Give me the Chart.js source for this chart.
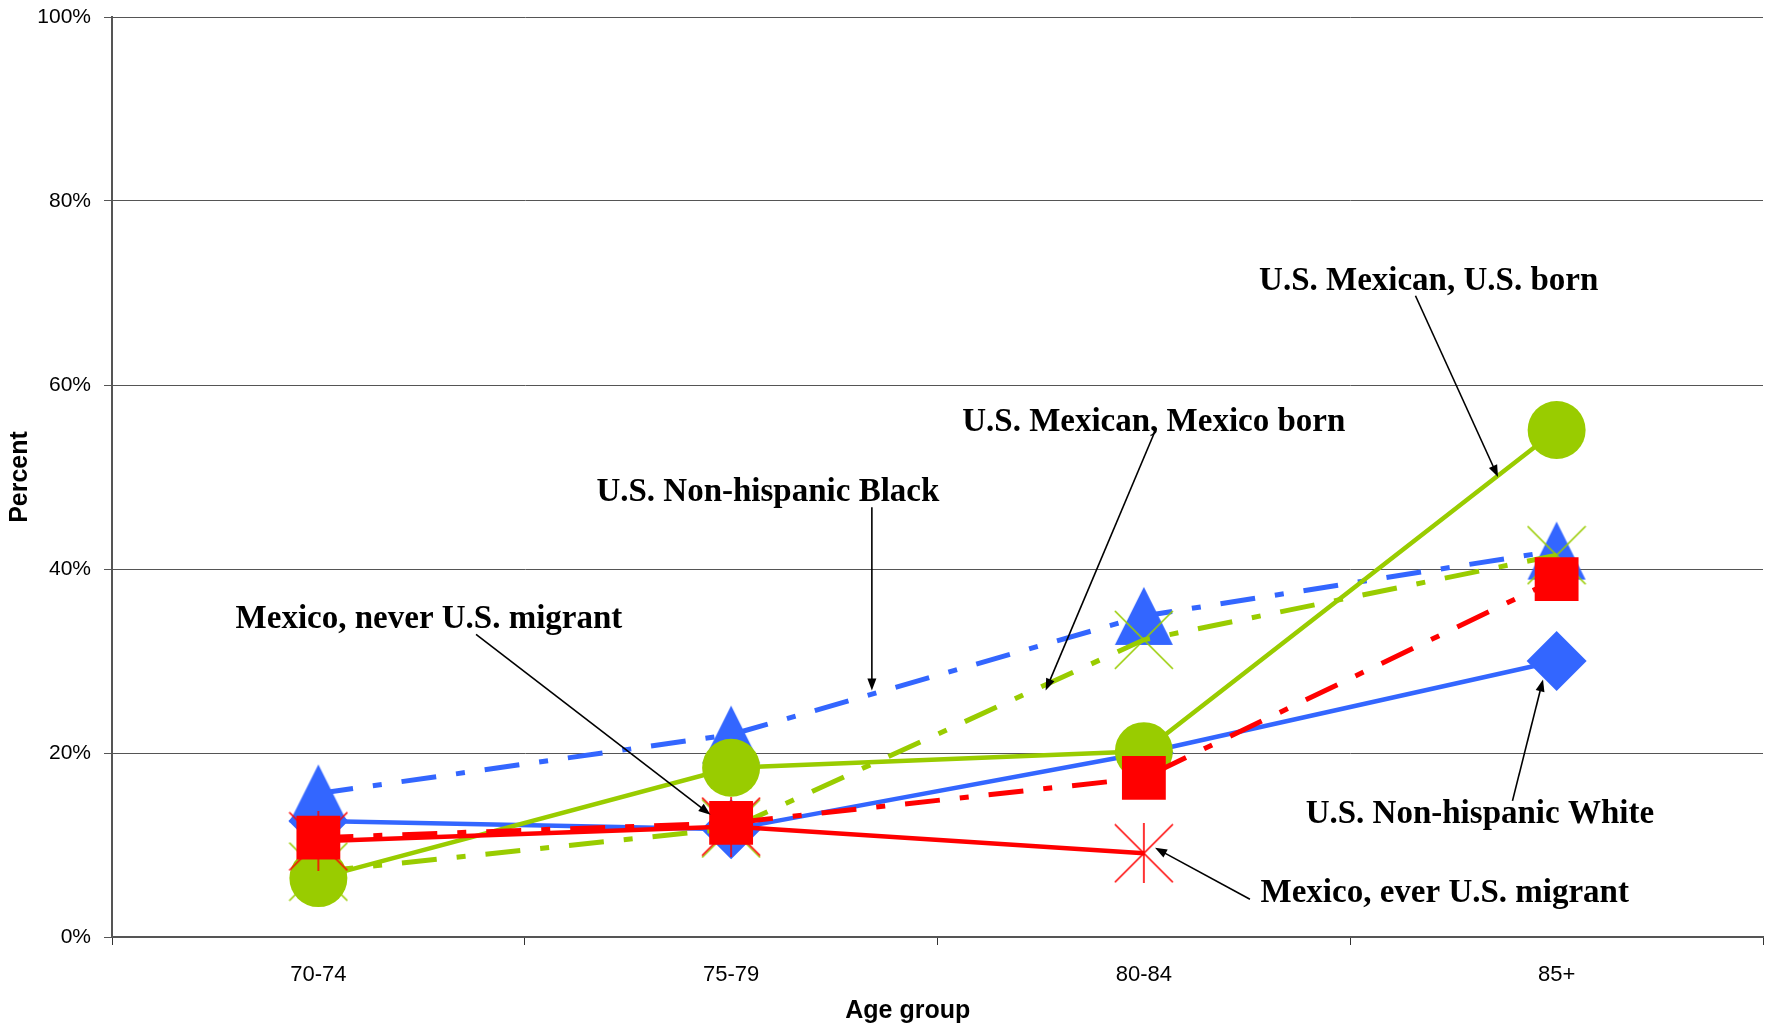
<!DOCTYPE html>
<html>
<head>
<meta charset="utf-8">
<script src="https://cdn.jsdelivr.net/npm/chart.js@4.4.0/dist/chart.umd.min.js"></script>
<style>
  html, body { margin: 0; padding: 0; background: #fff; }
  #wrap { width: 1769px; height: 1026px; }
</style>
</head>
<body>
<div id="wrap"><canvas id="chart" width="1769" height="1026"></canvas></div>
<script>
/* ===== Data (percent) ===== */
const AGE_GROUPS = ["70-74", "75-79", "80-84", "85+"];
const US_BORN = [6.4, 18.4, 20.2, 55.1];
const MEXICO_BORN = [7.1, 11.8, 32.3, 41.5];
const NH_BLACK = [15.6, 22.0, 34.9, 42.0];
const NH_WHITE = [12.6, 11.7, 20.0, 30.0];
const NEVER_MIGRANT = [10.8, 12.4, 17.3, 38.9];
const EVER_MIGRANT = [10.4, 12.0, 9.1, null];
const Y_TICKS = [0, 20, 40, 60, 80, 100];

// callouts: text, text centre [category index, pct], arrow from, arrow to
const NOTES = [
  ["U.S. Mexican, U.S. born", [2.69, 71.3], [2.658, 69.7], [2.858, 50.0]],
  ["U.S. Mexican, Mexico born", [2.024, 55.95], [2.030, 55.3], [1.762, 26.8]],
  ["U.S. Non-hispanic Black", [1.089, 48.35], [1.341, 46.7], [1.341, 26.8]],
  ["Mexico, never U.S. migrant", [0.268, 34.5], [0.382, 32.9], [0.950, 13.3]],
  ["U.S. Non-hispanic White", [2.814, 13.35], [2.893, 14.8], [2.967, 28.0]],
  ["Mexico, ever U.S. migrant", [2.729, 4.7], [2.257, 4.1], [2.027, 9.7]],
];

const GREEN = "#99cc00", BLUE = "#3366ff", RED = "#ff0000";
const DASH_DOT = [35, 20, 9, 20];
const SANS = "'Liberation Sans', Arial, sans-serif";

/* ===== Excel-like markers ===== */
function marker(size, draw) {
  const c = document.createElement("canvas");
  c.width = size; c.height = size;
  draw(c.getContext("2d"), size);
  return c;
}
const triangleMark = marker(60, (g, s) => {
  g.fillStyle = BLUE;
  g.beginPath();
  g.moveTo(s / 2, 1); g.lineTo(s - 1, s - 1); g.lineTo(1, s - 1);
  g.closePath(); g.fill();
});
const xMark = marker(60, (g, s) => {
  g.strokeStyle = GREEN; g.lineWidth = 1.6;
  g.beginPath();
  g.moveTo(1, 1); g.lineTo(s - 1, s - 1);
  g.moveTo(s - 1, 1); g.lineTo(1, s - 1);
  g.stroke();
});
const starMark = marker(60, (g, s) => {
  g.strokeStyle = RED; g.lineWidth = 1.6;
  g.beginPath();
  g.moveTo(1, 1); g.lineTo(s - 1, s - 1);
  g.moveTo(s - 1, 1); g.lineTo(1, s - 1);
  g.moveTo(s / 2, 0); g.lineTo(s / 2, s);
  g.stroke();
});

/* ===== Callout plugin ===== */
function arrow(ctx, x1, y1, x2, y2) {
  const a = Math.atan2(y2 - y1, x2 - x1), len = 12, w = 4.5;
  ctx.beginPath();
  ctx.moveTo(x1, y1);
  ctx.lineTo(x2 - Math.cos(a) * len * 0.8, y2 - Math.sin(a) * len * 0.8);
  ctx.stroke();
  ctx.beginPath();
  ctx.moveTo(x2, y2);
  ctx.lineTo(x2 - Math.cos(a) * len + Math.sin(a) * w, y2 - Math.sin(a) * len - Math.cos(a) * w);
  ctx.lineTo(x2 - Math.cos(a) * len - Math.sin(a) * w, y2 - Math.sin(a) * len + Math.cos(a) * w);
  ctx.closePath();
  ctx.fill();
}

const callouts = {
  id: "callouts",
  afterDraw(chart) {
    const { ctx, chartArea } = chart;
    const { x, y } = chart.scales;
    ctx.save();
    ctx.fillStyle = "#000";
    ctx.strokeStyle = "#000";
    ctx.lineWidth = 1.6;
    ctx.textAlign = "center";
    ctx.textBaseline = "middle";

    // x axis title sits a bit left of the plot centre in the original
    ctx.font = "bold 25px " + SANS;
    ctx.fillText("Age group", chartArea.left + 0.482 * chartArea.width, chart.height - 15);

    ctx.font = "bold 33px 'Liberation Serif', 'Times New Roman', serif";
    NOTES.forEach(([text, at, from, to]) => {
      ctx.fillText(text, x.getPixelForValue(at[0]), y.getPixelForValue(at[1]));
      arrow(ctx,
        x.getPixelForValue(from[0]), y.getPixelForValue(from[1]),
        x.getPixelForValue(to[0]), y.getPixelForValue(to[1]));
    });
    ctx.restore();
  },
};

/* ===== Chart ===== */
function series(label, data, color, dashed, style, radius, order) {
  return {
    label, data, order,
    borderColor: color,
    backgroundColor: color,
    borderWidth: dashed ? 5 : 4.5,
    borderDash: dashed ? DASH_DOT : [],
    pointStyle: style,
    pointRadius: radius,
    pointBorderWidth: 0,
    pointBackgroundColor: color,
    tension: 0,
    spanGaps: false,
  };
}

new Chart(document.getElementById("chart"), {
  type: "line",
  data: {
    labels: AGE_GROUPS,
    datasets: [
      series("U.S. Non-hispanic White", NH_WHITE, BLUE, false, "rectRot", 30, 6),
      series("U.S. Non-hispanic Black", NH_BLACK, BLUE, true, triangleMark, 30, 5),
      series("U.S. Mexican, Mexico born", MEXICO_BORN, GREEN, true, xMark, 30, 4),
      series("U.S. Mexican, U.S. born", US_BORN, GREEN, false, "circle", 29, 3),
      series("Mexico, ever U.S. migrant", EVER_MIGRANT, RED, false, starMark, 30, 2),
      series("Mexico, never U.S. migrant", NEVER_MIGRANT, RED, true, "rect", 31, 1),
    ],
  },
  options: {
    responsive: false,
    animation: false,
    layout: { autoPadding: false, padding: { top: 17, right: 6, left: 0, bottom: 0 } },
    plugins: { legend: { display: false }, tooltip: { enabled: false } },
    scales: {
      x: {
        offset: true,
        grid: { offset: true, drawOnChartArea: false, tickLength: 8, color: "#333", lineWidth: 1 },
        border: { display: true, color: "#555", width: 2 },
        ticks: { color: "#000", font: { family: SANS, size: 22 }, padding: 17, maxRotation: 0 },
        afterFit: (s) => {
          s.height = 89;
          s.paddingLeft = 0; s.paddingRight = 0;
        },
      },
      y: {
        min: 0, max: 100,
        afterBuildTicks: (s) => { s.ticks = Y_TICKS.map((v) => ({ value: v })); },
        grid: { color: "#555", lineWidth: 1, tickLength: 8 },
        border: { display: true, color: "#555", width: 2 },
        ticks: {
          color: "#000", font: { family: SANS, size: 21 }, padding: 13,
          callback: (v) => v + "%",
        },
        title: {
          display: true, text: "Percent", color: "#000",
          font: { family: SANS, size: 25, weight: "bold" }, padding: { top: 5, bottom: 0 },
        },
        afterFit: (s) => {
          s.width = 112;
          s.paddingTop = 0; s.paddingBottom = 0;
        },
      },
    },
  },
  plugins: [callouts],
});
</script>
</body>
</html>
